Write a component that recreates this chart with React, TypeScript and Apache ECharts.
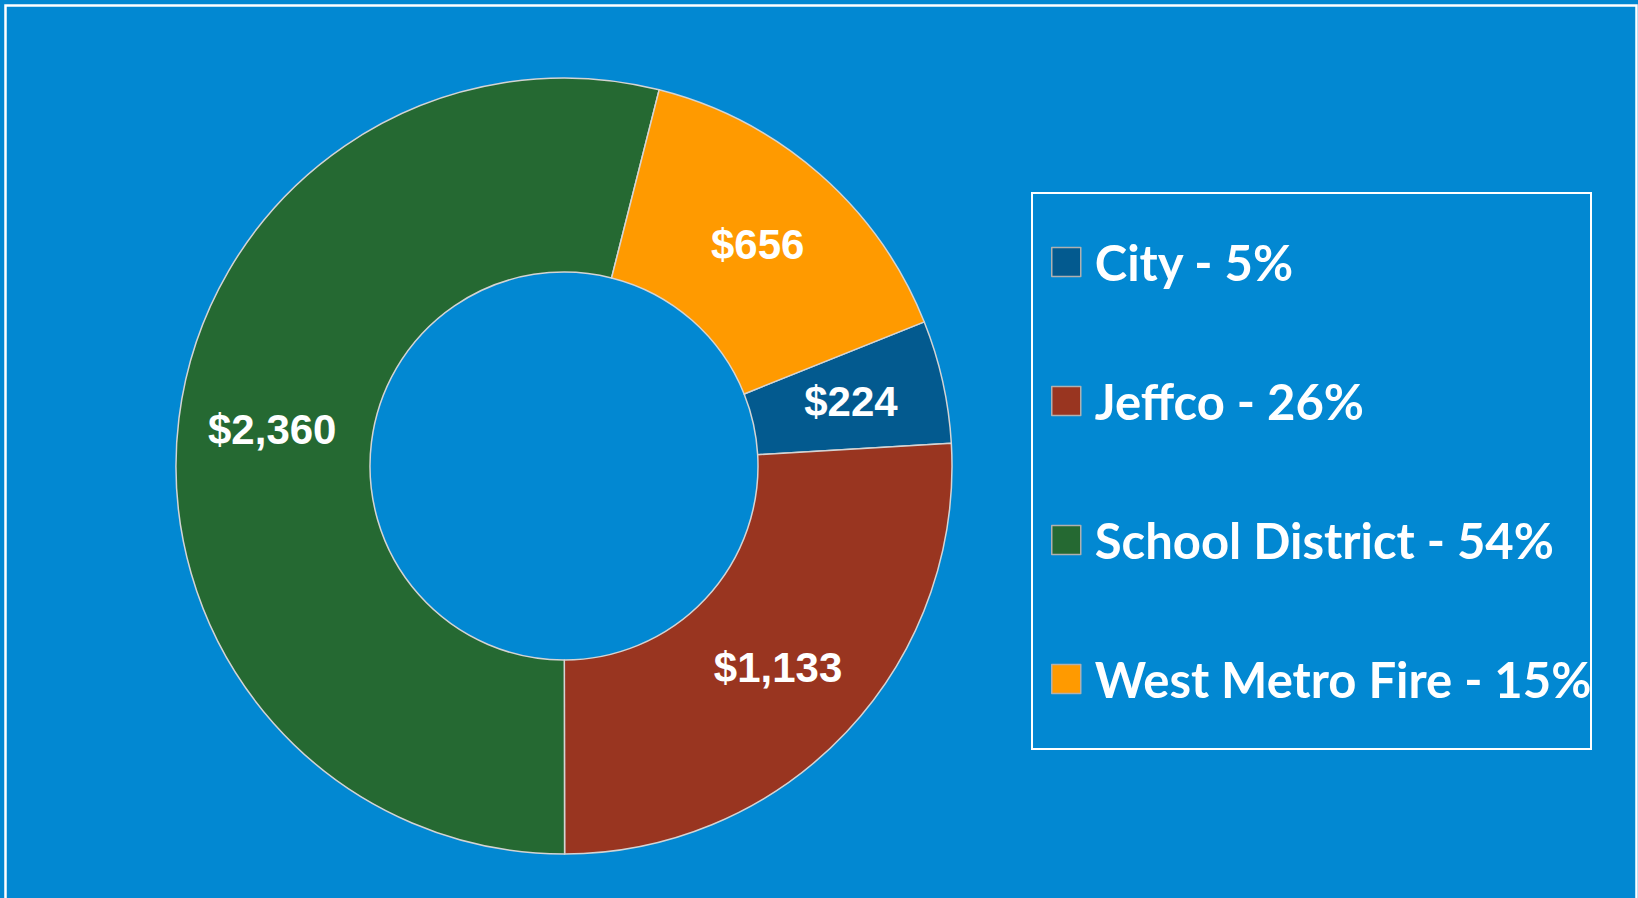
import React, { useEffect, useRef } from "react";
import * as echarts from "echarts";

const categories = ["City", "Jeffco", "School District", "West Metro Fire"];
const values = [224, 1133, 2360, 656];
const colors = ["#035A8F", "#993520", "#256932", "#FF9A00"];

const total = values.reduce((a, b) => a + b, 0);
const percents = values.map((v) => Math.round((v / total) * 100));

export default function App() {
  const ref = useRef<HTMLDivElement>(null);
  useEffect(() => {
    if (!ref.current) return;
    const chart = echarts.init(ref.current, undefined, { renderer: "svg" });
    chart.setOption({
      animation: false,
      backgroundColor: "#0288D2",
      graphic: [
        {
          type: "rect",
          shape: { x: 5.5, y: 5.5, width: 1631, height: 1000 },
          style: { fill: "none", stroke: "#ffffff", lineWidth: 2.5 },
          silent: true,
        },
        {
          type: "rect",
          shape: { x: 1032, y: 193, width: 559, height: 556 },
          style: { fill: "none", stroke: "#ffffff", lineWidth: 2 },
          silent: true,
        },
      ],
      legend: {
        orient: "vertical",
        left: 1051,
        top: 234,
        padding: 0,
        itemWidth: 29,
        itemHeight: 29,
        itemGap: 83,
        icon: "rect",
        data: categories,
        formatter: (name: string) => {
          const i = categories.indexOf(name);
          return `${name} - ${percents[i]}%`;
        },
        textStyle: {
          color: "#ffffff",
          fontFamily: "Lato",
          fontWeight: "bold",
          fontSize: 49,
          lineHeight: 56,
          padding: [0, 0, 0, 9],
        },
        itemStyle: { borderColor: "#b0b0b0", borderWidth: 1.5 },
      },
      series: [
        {
          type: "pie",
          center: [564, 466],
          radius: [194, 388],
          startAngle: 21.8,
          clockwise: true,
          avoidLabelOverlap: false,
          itemStyle: { borderColor: "#d4d4d4", borderWidth: 1.5 },
          label: {
            show: true,
            position: "inside",
            color: "#ffffff",
            fontFamily: "Liberation Sans",
            fontWeight: "bold",
            fontSize: 42,
            formatter: (p: any) => "$" + Number(p.value).toLocaleString("en-US"),
          },
          labelLine: { show: false },
          emphasis: { disabled: true },
          data: categories.map((c, i) => ({
            name: c,
            value: values[i],
            itemStyle: { color: colors[i] },
          })),
        },
      ],
    });
    return () => chart.dispose();
  }, []);
  return (
    <div
      ref={ref}
      style={{ position: "absolute", left: 0, top: 0, width: 1638, height: 898 }}
    />
  );
}
